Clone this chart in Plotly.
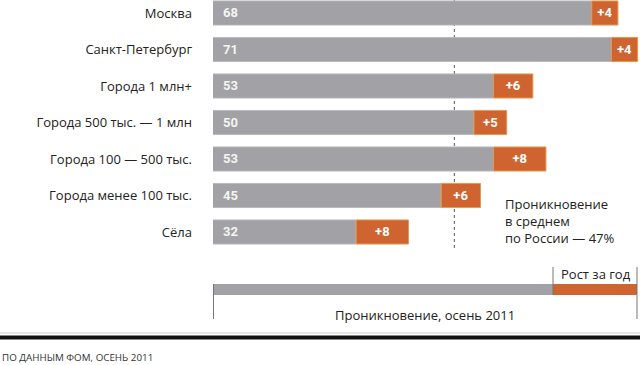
import plotly.graph_objects as go

# ---- data ----
categories = ["Москва", "Санкт-Петербург", "Города 1 млн+", "Города 500 тыс. — 1 млн",
              "Города 100 — 500 тыс.", "Города менее 100 тыс.", "Сёла"]
penetration_2011 = [68, 71, 53, 50, 53, 45, 32]
growth_year = [4, 4, 6, 5, 8, 6, 8]
russia_average = 47
avg_label = "Проникновение<br>в среднем<br>по России — 47%"
legend_growth = "Рост за год"
legend_pen = "Проникновение, осень 2011"
source = "ПО ДАННЫМ ФОМ, ОСЕНЬ 2011"

GREY = "#a2a1a5"
ORANGE = "#cf6430"
FONT = "Open Sans"
BOLD = "Roboto"

W, H = 640, 365
ML = 213
PW = W - ML


def px(p):  # pixel x -> paper x
    return (p - ML) / PW


def py(q):  # pixel y -> paper y
    return (H - q) / H


rows = list(range(len(categories)))

fig = go.Figure()
fig.add_trace(go.Bar(
    y=rows, x=penetration_2011, orientation="h", width=0.66,
    marker=dict(color=GREY, line=dict(color="#b9b8bc", width=1)),
    textposition="none", hoverinfo="skip", showlegend=False,
))
fig.add_trace(go.Bar(
    y=rows, x=growth_year, base=penetration_2011, orientation="h", width=0.66,
    marker=dict(color=ORANGE, line=dict(color="#e09a50", width=1)),
    text=["+" + str(g) for g in growth_year], textposition="inside",
    insidetextanchor="middle", constraintext="none",
    textfont=dict(family=BOLD, size=13, color="white", weight="bold"),
    hoverinfo="skip", showlegend=False,
))

# value labels at the start of grey bars
for r, v in zip(rows, penetration_2011):
    fig.add_annotation(x=0, xref="paper", y=r, yref="y", text=str(v),
                       showarrow=False, xanchor="left", xshift=8,
                       font=dict(family=BOLD, size=13, color="#f4f4f4", weight="bold"))

# average line
fig.add_shape(type="line", x0=russia_average, x1=russia_average, xref="x",
              y0=py(248), y1=1, yref="paper", layer="below",
              line=dict(color="#555555", width=1, dash="3px,3px"))
fig.add_annotation(x=px(503), xref="paper", y=py(193), yref="paper", text=avg_label,
                   showarrow=False, xanchor="left", yanchor="top", align="left",
                   font=dict(family=FONT, size=13, color="#222222"))

# legend key
fig.add_shape(type="rect", xref="paper", yref="paper", x0=px(213), x1=px(553),
              y0=py(295), y1=py(284), fillcolor=GREY, line=dict(width=0))
fig.add_shape(type="rect", xref="paper", yref="paper", x0=px(553), x1=px(637),
              y0=py(295), y1=py(284), fillcolor=ORANGE, line=dict(width=0))
for xx, ya, yb in [(213.5, 284, 319), (553, 267, 295), (637, 267, 319)]:
    fig.add_shape(type="line", xref="paper", yref="paper", x0=px(xx), x1=px(xx),
                  y0=py(yb), y1=py(ya), line=dict(color="#777777", width=1))
fig.add_annotation(x=px(559), xref="paper", y=py(274), yref="paper", text=legend_growth,
                   showarrow=False, xanchor="left", yanchor="middle",
                   font=dict(family=FONT, size=13, color="#222222"))
fig.add_annotation(x=px(425), xref="paper", y=py(315), yref="paper", text=legend_pen,
                   showarrow=False, xanchor="center", yanchor="middle",
                   font=dict(family=FONT, size=13, color="#222222"))

# footer rules and source
fig.add_shape(type="line", xref="paper", yref="paper", x0=px(0), x1=px(640),
              y0=py(333), y1=py(333), line=dict(color="#cccccc", width=1))
fig.add_shape(type="line", xref="paper", yref="paper", x0=px(0), x1=px(640),
              y0=py(337.5), y1=py(337.5), line=dict(color="#111111", width=4))
fig.add_annotation(x=px(0), xref="paper", y=py(357), yref="paper", text=source,
                   showarrow=False, xanchor="left", yanchor="middle",
                   font=dict(family=FONT, size=9.8, color="#333333"))

fig.update_layout(
    width=W, height=H, margin=dict(l=ML, r=0, t=0, b=0),
    paper_bgcolor="white", plot_bgcolor="white", barmode="overlay",
    xaxis=dict(range=[10.13, 75.37], visible=False, fixedrange=True),
    yaxis=dict(range=[9.644, -0.356], tickvals=rows, ticktext=categories,
               showgrid=False, zeroline=False, showline=False, ticks="",
               fixedrange=True,
               ticklabelstandoff=20, tickfont=dict(family=FONT, size=13, color="#222222")),
    font=dict(family=FONT),
)

fig.write_html("out.html", config={"displayModeBar": False},
               post_script="document.body.style.margin='0';")
